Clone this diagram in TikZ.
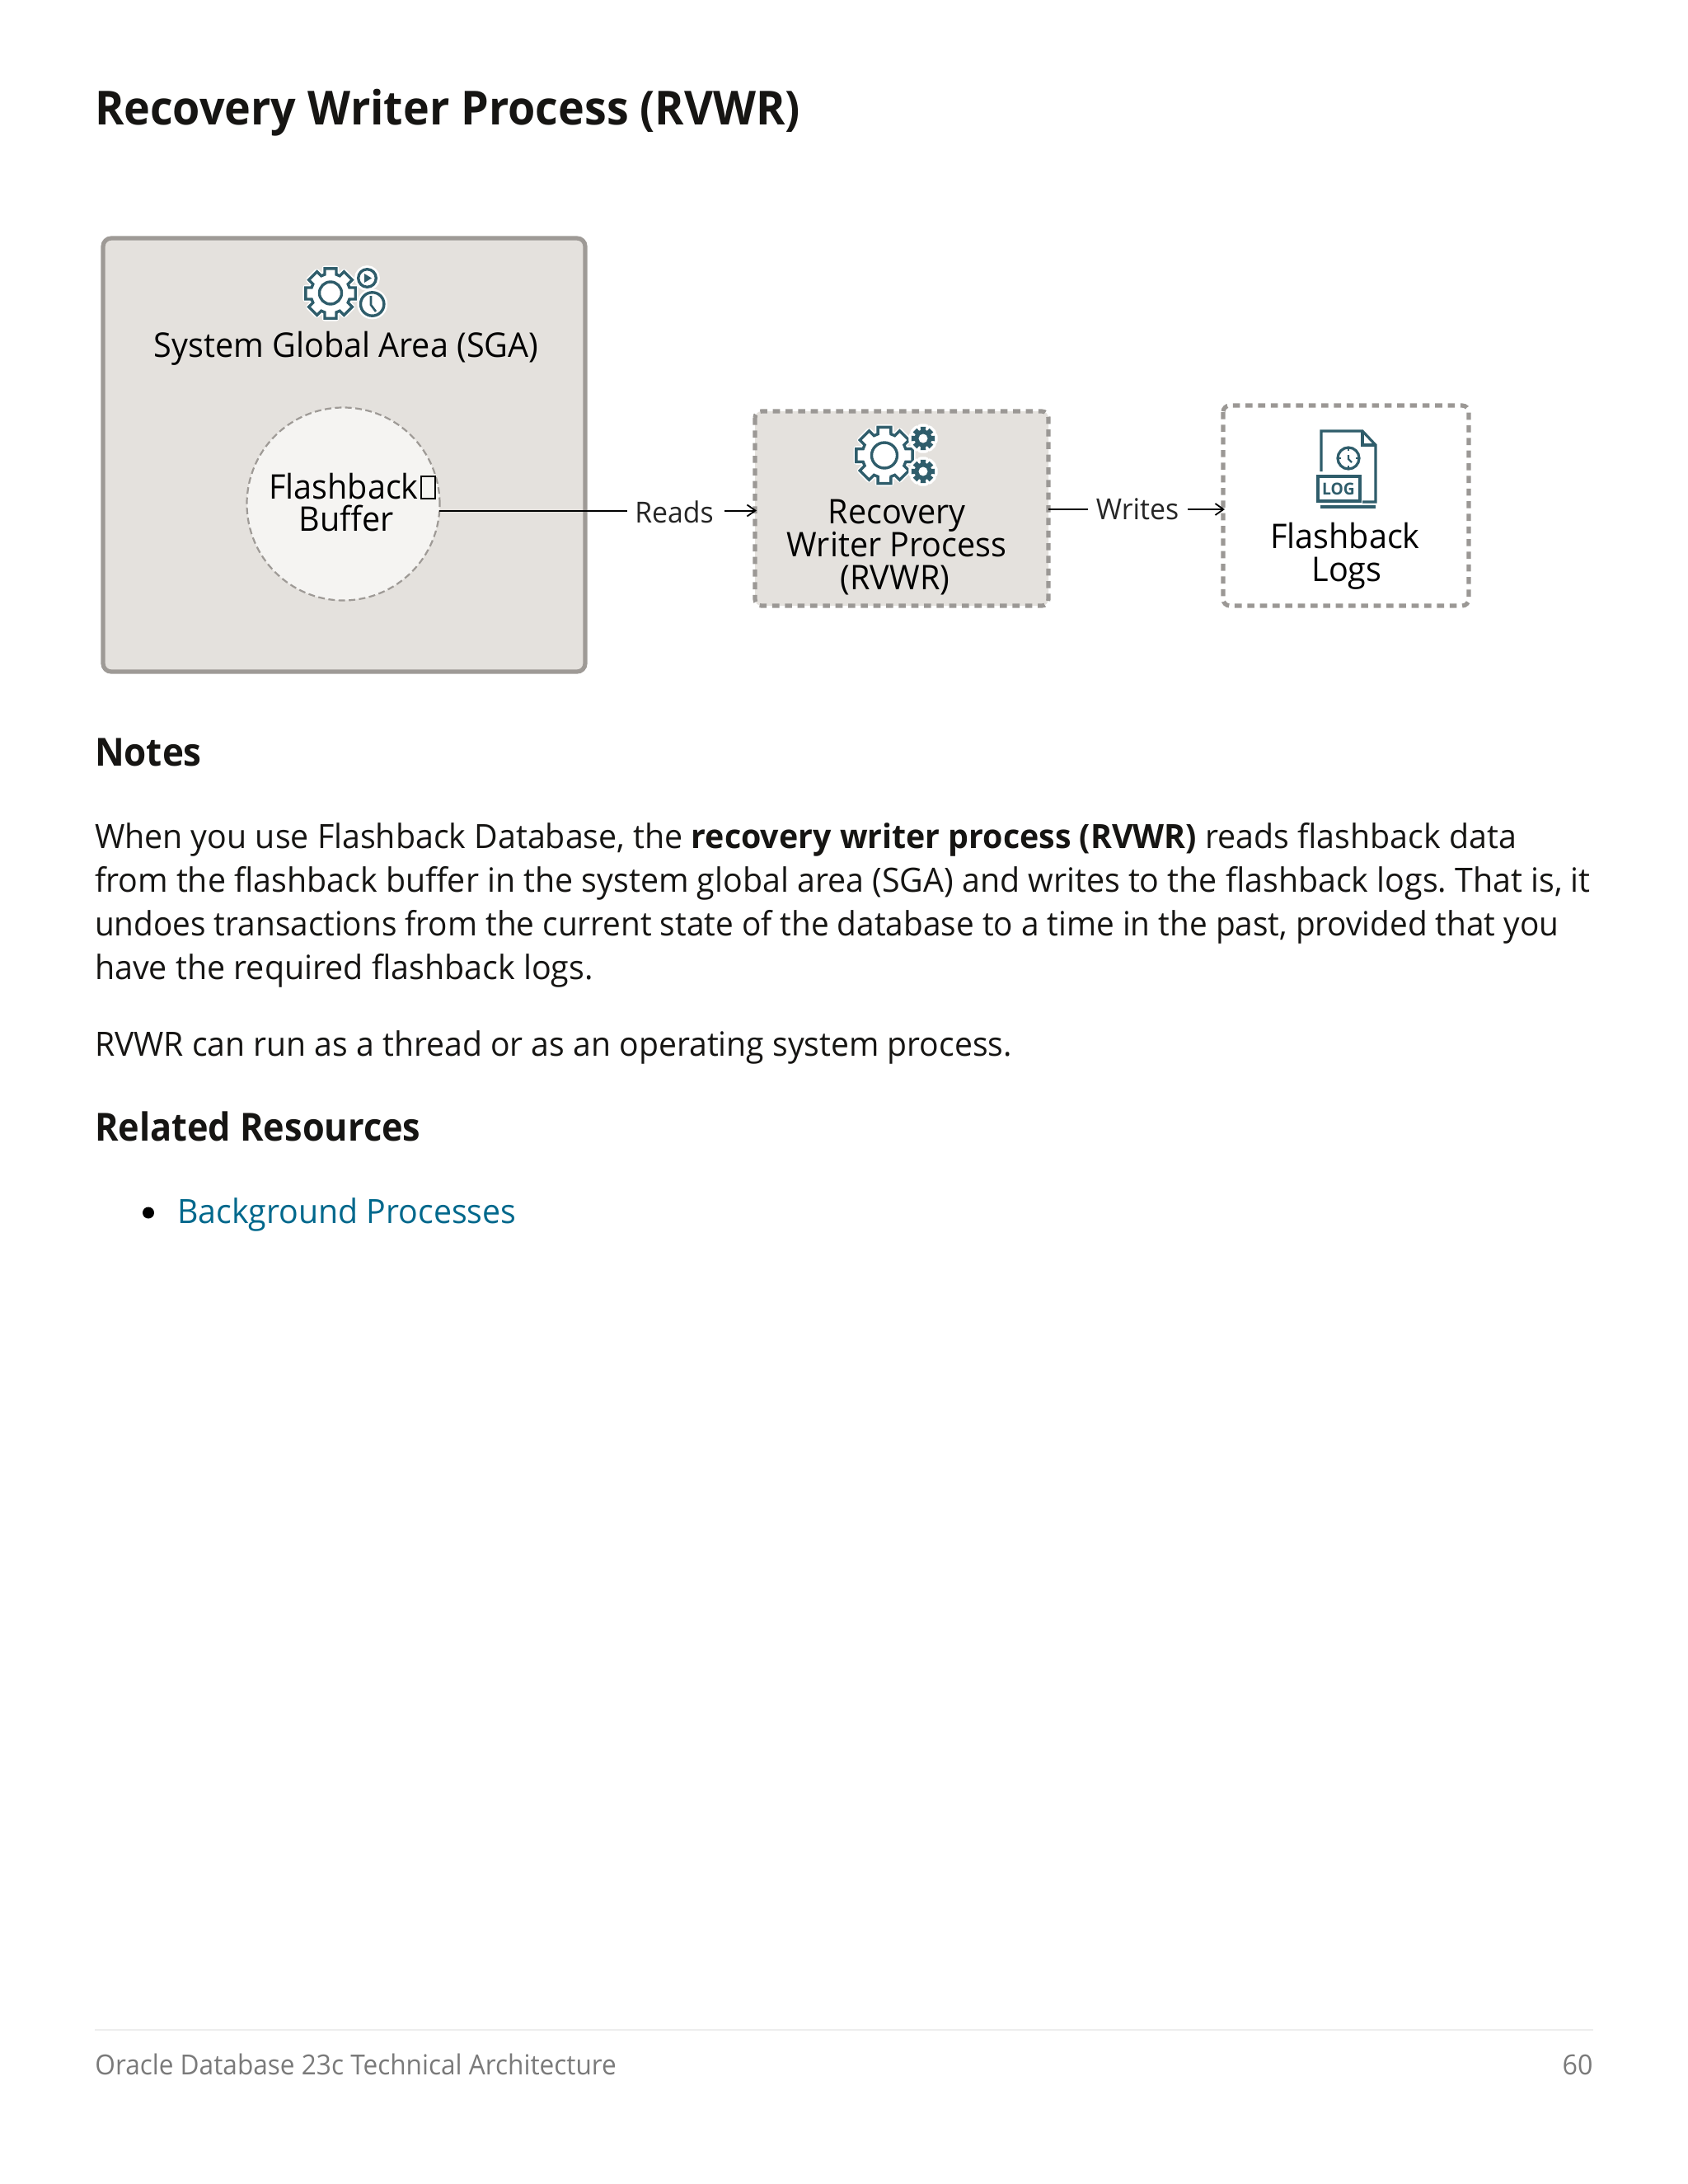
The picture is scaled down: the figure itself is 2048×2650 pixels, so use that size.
\documentclass[tikz,border=0pt]{standalone}
\usepackage{graphicx}
\usepackage{fontspec}
\setmainfont{Open Sans}[FakeStretch=0.96]
\usetikzlibrary{arrows.meta}
\frenchspacing
\definecolor{teal1}{HTML}{2F5D6B}
\definecolor{boxfill}{HTML}{E4E1DD}
\definecolor{boxline}{HTML}{9E9A96}
\definecolor{dashgrey}{HTML}{9B9895}
\definecolor{circfill}{HTML}{F5F4F2}
\definecolor{linkc}{HTML}{00688C}
\definecolor{footc}{HTML}{7A7A7A}
\definecolor{inkc}{HTML}{161513}
\newcommand{\fs}[1]{\fontsize{#1}{#1}\selectfont}
\newcommand{\sx}[2]{\scalebox{#1}[1]{#2}}
\tikzset{
  x=0.5pt,y=-0.5pt,
  body/.style={anchor=base west,inner sep=0,outer sep=0,text=inkc,font=\fs{20.3}\frenchspacing},
  head/.style={anchor=base west,inner sep=0,outer sep=0,text=inkc,font=\fs{23.5}\bfseries},
  title/.style={anchor=base west,inner sep=0,outer sep=0,text=inkc,font=\fs{28.5}\bfseries},
  lbl/.style={anchor=base,inner sep=0,outer sep=0,text=black,font=\fs{20.6}},
  edgelbl/.style={anchor=base,inner sep=0,outer sep=0,text=black!85,font=\fs{17.6}},
  conn/.style={black,line width=1pt},
  arr/.style={black,line width=1pt,-{Straight Barb[length=5pt,width=7pt,line width=0.9pt]}},
  icon/.style={teal1,line width=1.7pt,fill=white,line join=miter},
  gearhalo/.style={white,line width=3.4pt,line join=round},
  dashbox/.style={dashgrey,line width=2.6pt,dash pattern=on 4.3pt off 3.37pt,rounded corners=4pt}
}
\newcommand{\gearpath}[5]{%
  \foreach \k [evaluate=\k as \a using {(\k-1)*360/#5+90}] in {1,...,#5}{%
    \pgfmathsetmacro{\st}{360/#5}%
    \ifnum\k=1 \xdef\gp{}\fi
    \pgfmathsetmacro{\xa}{#1+#4*cos(\a-0.38*\st)}\pgfmathsetmacro{\ya}{#2-#4*sin(\a-0.38*\st)}%
    \pgfmathsetmacro{\xb}{#1+#3*cos(\a-0.29*\st)}\pgfmathsetmacro{\yb}{#2-#3*sin(\a-0.29*\st)}%
    \pgfmathsetmacro{\xc}{#1+#3*cos(\a+0.29*\st)}\pgfmathsetmacro{\yc}{#2-#3*sin(\a+0.29*\st)}%
    \pgfmathsetmacro{\xd}{#1+#4*cos(\a+0.38*\st)}\pgfmathsetmacro{\yd}{#2-#4*sin(\a+0.38*\st)}%
    \xdef\gp{\gp\ifnum\k=1 \else--\fi(\xa,\ya)--(\xb,\yb)--(\xc,\yc)--(\xd,\yd)}%
  }%
}
\begin{document}
\begin{tikzpicture}
\useasboundingbox (0,0) rectangle (2048,2650);
\fill[white] (0,0) rectangle (2048,2650);

\node[title] (t) at (115,151) {\sx{0.983}{Recovery Writer Process (RVWR)}};

% SGA
\draw[boxline,fill=boxfill,line width=2.6pt,rounded corners=5pt] (125,289) rectangle (710,815);
\node[circle,draw=boxline,fill=circfill,line width=1.1pt,dash pattern=on 4pt off 2.2pt,minimum size=117pt,inner sep=0] (circ) at (416.5,611.5) {};
\coordinate (fbE) at (533,619.5);
\node[lbl] (sga) at (420,433) {System Global Area (SGA)};
\node[lbl] (fb1) at (417,605) {Flashback};
\draw[black,line width=0.6pt] (511,578) rectangle (528,605);
\node[lbl] (fb2) at (420,644) {Buffer};

% SGA icon
\gearpath{401}{356}{31}{24}{8}
\draw[gearhalo] \gp--cycle;
\draw[icon] \gp--cycle;
\draw[icon] (401,355.5) circle (13.5);
\draw[gearhalo] (445.5,337.5) circle (12);
\draw[icon] (445.5,337.5) circle (10.8);
\fill[teal1] (442,332) -- (451,337.5) -- (442,343) -- cycle;
\draw[gearhalo] (451.7,369) circle (15);
\draw[icon] (451.7,369) circle (14.2);
\draw[teal1,line width=1.3pt] (450,359) -- (450,370) -- (456,378);

% RVWR
\draw[dashbox,fill=boxfill] (916,499) rectangle (1272,735);
\node[lbl] (r1) at (1088,635) {Recovery};
\node[lbl] (r2) at (1088,675) {Writer Process};
\node[lbl] (r3) at (1086,715) {(RVWR)};
\gearpath{1073}{552.5}{35}{27}{8}
\draw[gearhalo] \gp--cycle;
\draw[icon] \gp--cycle;
\draw[icon] (1073,552.5) circle (15.5);
\gearpath{1120}{532}{14.5}{10.5}{8}
\draw[gearhalo] \gp--cycle;
\fill[teal1] \gp--cycle;
\fill[white] (1120,532) circle (5.5);
\gearpath{1120}{572}{14.5}{10.5}{8}
\draw[gearhalo] \gp--cycle;
\fill[teal1] \gp--cycle;
\fill[white] (1120,572) circle (5.5);

% Logs
\draw[dashbox] (1484,492) rectangle (1782,735);
\node[lbl] (l1) at (1632,665) {Flashback};
\node[lbl] (l2) at (1634,705) {Logs};
\begin{scope}[teal1,line width=1.6pt,line join=miter]
  \draw (1603,572) -- (1603,523) -- (1653,523) -- (1669,540) -- (1669,609) -- (1653,609);
  \draw (1653,523) -- (1653,540) -- (1669,540);
  \draw (1636,556) circle (13);
  \draw[line width=1.2pt] (1636,552) -- (1636,557) -- (1640,561);
  \draw[line width=1.2pt] (1636,543)--(1636,547) (1636,565)--(1636,569) (1623,556)--(1627,556) (1645,556)--(1649,556);
  \draw (1599,578) rectangle (1650,608);
  \draw[line width=2.2pt] (1602,615) -- (1669,615);
\end{scope}
\node[inner sep=0,text=teal1,font=\fs{10}\bfseries] (logt) at (1624,593) {LOG};

% connectors
\node[edgelbl] (reads) at (818,634) {Reads};
\node[edgelbl] (writes) at (1380,630) {Writes};
\coordinate (rS) at (761,619.5);
\coordinate (rA) at (879,619.5);
\coordinate (wE) at (1272,618);
\coordinate (wS) at (1320,618);
\coordinate (wA) at (1441,618);
\coordinate (wB) at (1486,618);
\coordinate (rB) at (918,619.5);
\draw[conn] (fbE) -- (rS);
\draw[arr] (rA) -- (rB);
\draw[conn] (wE) -- (wS);
\draw[arr] (wA) -- (wB);

% text
\node[head] (n) at (115,929) {\sx{0.974}{Notes}};
\node[body] (p1) at (115,1029) {\sx{1.009}{When you use Flashback Database, the \textbf{recovery writer process (RVWR)} reads flashback data}};
\node[body] (p2) at (115,1082) {\sx{1.009}{from the flashback buffer in the system global area (SGA) and writes to the flashback logs. That is, it}};
\node[body] (p3) at (115,1135) {\sx{0.994}{undoes transactions from the current state of the database to a time in the past, provided that you}};
\node[body] (p4) at (115,1188) {\sx{1.011}{have the required flashback logs.}};
\node[body] (p5) at (115,1281) {\sx{1.004}{RVWR can run as a thread or as an operating system process.}};
\node[head] (rr) at (115,1384) {\sx{0.959}{Related Resources}};
\fill[black] (180,1471.5) circle (7);
\node[body,text=linkc] (bp) at (215,1484) {\sx{1.008}{Background Processes}};

% footer
\draw[black!7,line width=0.6pt] (115,2463) -- (1933,2463);
\node[anchor=base west,inner sep=0,text=footc,font=\fs{16.8}] (f1) at (115,2517) {\sx{0.979}{Oracle Database 23c Technical Architecture}};
\node[anchor=base east,inner sep=0,text=footc,font=\fs{16.8}] (f2) at (1933,2517) {60};
\end{tikzpicture}
\end{document}
